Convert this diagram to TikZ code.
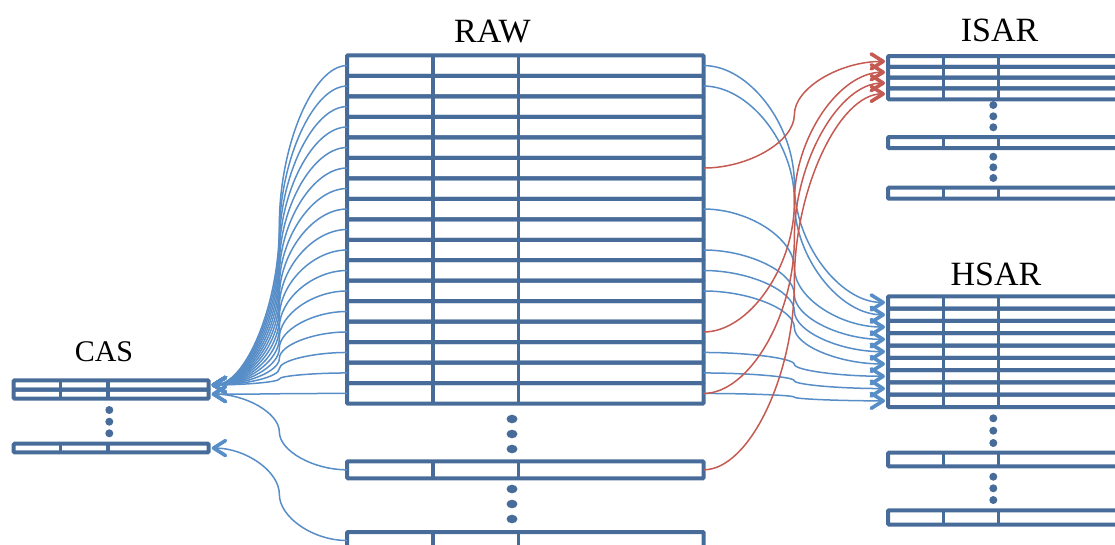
\documentclass[tikz,border=0pt]{standalone}
\usepackage{fontspec}
\setmainfont{Liberation Serif}
\usetikzlibrary{arrows.meta,calc}
\definecolor{tabc}{RGB}{72,108,154}
\definecolor{linkb}{RGB}{88,142,199}
\definecolor{linkr}{RGB}{197,90,82}
\tikzset{
  x=1pt, y=-1pt,
  rowbox/.style={rectangle, draw=tabc, line width=4pt, rounded corners=1pt,
    inner sep=0pt, outer sep=0pt, anchor=north west},
  colpair/.style 2 args={path picture={
    \draw[tabc, line width=3.4pt]
      ([xshift=#1]path picture bounding box.north west) -- ([xshift=#1]path picture bounding box.south west)
      ([xshift=#2]path picture bounding box.north west) -- ([xshift=#2]path picture bounding box.south west);}},
  rawrow/.style={rowbox, minimum width=356.7pt, minimum height=#1, colpair={86pt}{171.7pt}},
  sarrow/.style={rowbox, minimum width=260pt, minimum height=#1, colpair={55.7pt}{110.7pt}},
  casrow/.style={rowbox, minimum width=195pt, minimum height=#1, colpair={46.6pt}{94.3pt}},
  label/.style={font=\fontsize{34}{36}\selectfont, anchor=base, inner sep=0pt},
  dot/.style={fill=tabc},
  % curved elbow connector: horizontal start, vertical middle, horizontal end
  elbow/.style={to path={let \p1=(\tikztostart), \p2=(\tikztotarget),
      \p3=($(\tikztostart)!0.5!(\tikztotarget)$) in
      .. controls ({0.5*(\x1+\x3)},\y1) and (\x3,{0.75*\y1+0.25*\y2}) .. (\x3,\y3)
      .. controls (\x3,{0.25*\y1+0.75*\y2}) and ({0.5*(\x3+\x2)},\y2) .. (\tikztotarget)}},
  tipb/.tip={Straight Barb[length=12pt,width=15pt,line width=3.6pt,round]},
  bconn/.style={draw=linkb, line width=1.5pt, elbow, -tipb},
  rconn/.style={draw=linkr, line width=1.5pt, elbow, -tipb},
}
\begin{document}
\begin{tikzpicture}
\useasboundingbox (0,0) rectangle (1115,544);
\clip (0,0) rectangle (1115,544);

% ---------- RAW ----------
\foreach \i in {1,...,17}
  \node[rawrow=20.494pt] (raw\i) at (347,{55.3+(\i-1)*20.494}) {};
\node[rawrow=17pt] (rawmid) at (347,461.3) {};
\node[rawrow=17pt] (rawbot) at (347,532) {};
\node[label] (rawlabel) at (492.5,42) {RAW};

% ---------- CAS ----------
\node[casrow=9.2pt] (cas1) at (13.7,380.3) {};
\node[casrow=9.2pt] (cas2) at (13.7,389.5) {};
\node[casrow=8.7pt] (cas3) at (13.7,443.7) {};
\node[label, font=\fontsize{30}{32}\selectfont] (caslabel) at (104,361.7) {CAS};

% ---------- ISAR ----------
\foreach \i in {1,...,4}
  \node[sarrow=10.83pt] (isar\i) at (888,{56+(\i-1)*10.83}) {};
\node[sarrow=11pt] (isar5) at (888,137) {};
\node[sarrow=11pt] (isar6) at (888,187.7) {};
\node[label] (isarlabel) at (999.5,41.7) {ISAR};

% ---------- HSAR ----------
\foreach \i in {1,...,9}
  \node[sarrow=12.3pt] (hsar\i) at (888,{296.3+(\i-1)*12.3}) {};
\node[sarrow=13.6pt] (hsar10) at (888,452.7) {};
\node[sarrow=14.2pt] (hsar11) at (888,510.3) {};
\node[label] (hsarlabel) at (996,285) {HSAR};

% ---------- ellipsis dots ----------
\foreach \y in {419,434,449,489,504,519}
  \fill[dot] (512,\y) ellipse [x radius=5.5, y radius=4.3];
\foreach \y in {410,421.7,433.3}
  \fill[dot] (109.3,\y) circle [radius=4];
\foreach \y in {105,116.3,127.3,156.7,167.3,178,418.3,430.7,443,476.7,488.3,500}
  \fill[dot] (993.3,\y) circle [radius=4];

% ---------- arrow end points ----------
\foreach \i in {1,2,3}
  \coordinate (casin\i) at ([xshift=3pt]cas\i.east);
\foreach \i in {1,...,4}
  \coordinate (isarin\i) at ([xshift=-3pt]isar\i.west);
\foreach \i in {1,...,9}
  \coordinate (hsarin\i) at ([xshift=-3pt]hsar\i.west);

% ---------- RAW -> CAS ----------
\foreach \r in {1,...,16}
  \draw[bconn] (raw\r.west) to (casin1);
\draw[bconn] (raw17.west) to (casin2);
\draw[bconn] (rawmid.west) to (casin2);
\draw[bconn] (rawbot.west) to (casin3);

% ---------- RAW -> HSAR ----------
\foreach \r/\t in {1/1,2/2,8/3,10/4,11/5,12/6,15/7,16/8,17/9}
  \draw[bconn] (raw\r.east) to (hsarin\t);

% ---------- RAW -> ISAR ----------
\foreach \r/\t in {6/1,14/2,17/3}
  \draw[rconn] (raw\r.east) to (isarin\t);
\draw[rconn] (rawmid.east) to (isarin4);
\end{tikzpicture}
\end{document}
